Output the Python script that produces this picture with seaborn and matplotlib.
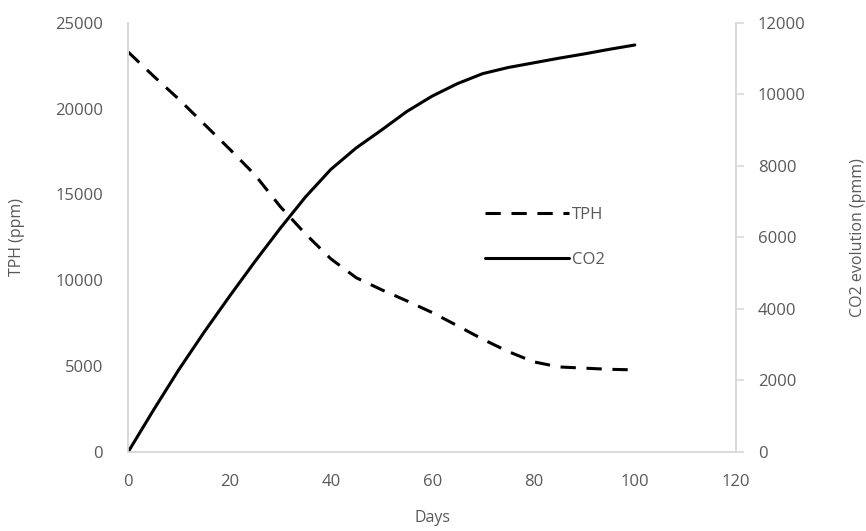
import pandas as pd
import matplotlib.pyplot as plt
import seaborn as sns

# Dados
dias = [0, 5, 10, 15, 20, 25, 30, 35, 40, 45, 50,
        55, 60, 65, 70, 75, 80, 85, 90, 95, 100]
tph = [23300, 21900, 20550, 19100, 17650, 16150, 14300, 12700, 11250, 10150, 9450,
       8800, 8120, 7350, 6560, 5850, 5250, 4950, 4880, 4810, 4780]
co2 = [0, 1170, 2300, 3350, 4350, 5320, 6250, 7130, 7900, 8500, 9000,
       9520, 9950, 10300, 10580, 10750, 10880, 11010, 11130, 11260, 11380]

df = pd.DataFrame({'Dias': dias, 'TPH': tph, 'CO2': co2})

sns.set_theme(style='white')
plt.rcParams['font.family'] = ['Open Sans', 'DejaVu Sans']
cinza = '#595959'
eixo = '#D9D9D9'

fig = plt.figure(figsize=(8.66, 5.31), dpi=100)
ax = fig.add_axes([0.148, 0.149, 0.702, 0.808])
ax2 = ax.twinx()

sns.lineplot(x='Dias', y='TPH', data=df, ax=ax, color='black', lw=2.2,
             linestyle=(0, (5, 3.5)), label='TPH', legend=False)
sns.lineplot(x='Dias', y='CO2', data=df, ax=ax2, color='black', lw=2.2,
             label='CO2', legend=False)

ax.set_xlim(0, 120)
ax.set_ylim(0, 25000)
ax2.set_ylim(0, 12000)
ax.set_xticks(range(0, 121, 20))
ax.set_yticks(range(0, 25001, 5000))
ax2.set_yticks(range(0, 12001, 2000))

for a in (ax, ax2):
    for s in a.spines.values():
        s.set_color(eixo)
        s.set_linewidth(1.2)
    a.spines['top'].set_visible(False)
    a.tick_params(colors=cinza, labelsize=12)
ax.tick_params(axis='y', length=0, pad=18)
ax.tick_params(axis='x', length=0, pad=16)
ax2.tick_params(axis='y', length=5.5, width=1.2, color=eixo, pad=10)

ax.set_xlabel('Days', color=cinza, fontsize=11.5)
ax.set_ylabel('TPH (ppm)', color=cinza, fontsize=11.5)
ax2.set_ylabel('CO2 evolution (pmm)', color=cinza, fontsize=11.5)
ax.xaxis.set_label_coords(0.5, -0.135)
ax.yaxis.set_label_coords(-0.169, 0.5)
ax2.yaxis.set_label_coords(1.187, 0.5)

h1, l1 = ax.get_legend_handles_labels()
h2, l2 = ax2.get_legend_handles_labels()
leg = ax2.legend(h1 + h2, l1 + l2, loc='center', bbox_to_anchor=(0.686, 0.5),
                 frameon=False, handlelength=5.0, labelspacing=1.75,
                 handletextpad=0.2, fontsize=12)
for t in leg.get_texts():
    t.set_color(cinza)

fig.savefig('out.png', dpi=100)
